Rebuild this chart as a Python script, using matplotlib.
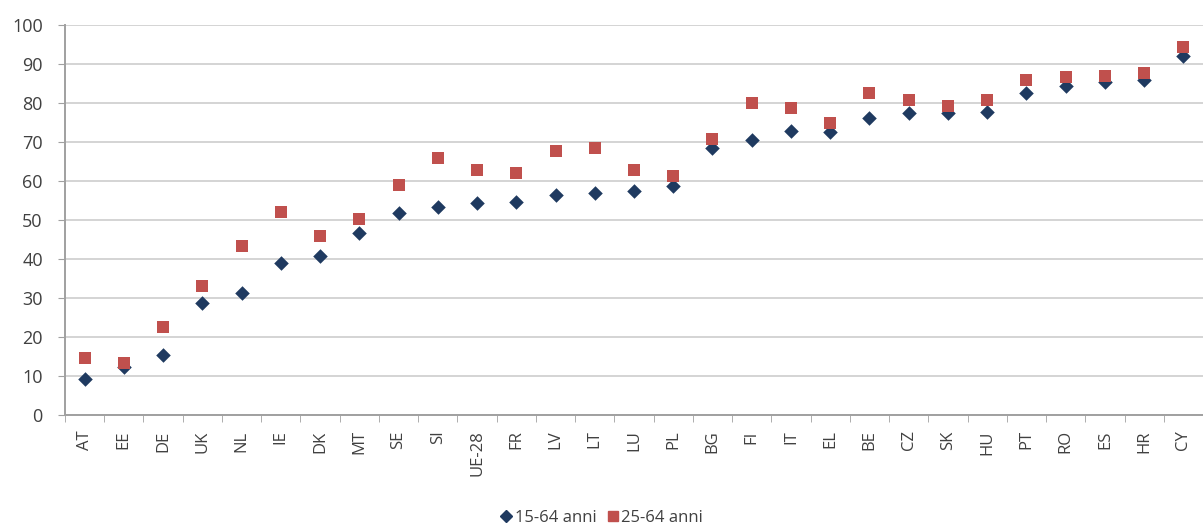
import matplotlib
matplotlib.use("Agg")
import matplotlib.pyplot as plt
from matplotlib.lines import Line2D
import numpy as np

countries = ["AT", "EE", "DE", "UK", "NL", "IE", "DK", "MT", "SE", "SI", "UE-28", "FR",
             "LV", "LT", "LU", "PL", "BG", "FI", "IT", "EL", "BE", "CZ", "SK", "HU",
             "PT", "RO", "ES", "HR", "CY"]
age_15_64 = [9.2, 12.3, 15.4, 28.7, 31.3, 39.0, 40.8, 46.7, 51.7, 53.3, 54.3, 54.7,
             56.4, 56.8, 57.4, 58.8, 68.4, 70.5, 72.8, 72.6, 76.1, 77.4, 77.4, 77.8,
             82.6, 84.4, 85.3, 86.0, 92.0]
age_25_64 = [14.6, 13.3, 22.6, 33.1, 43.3, 52.0, 46.0, 50.3, 59.0, 66.0, 62.8, 62.0,
             67.7, 68.4, 62.8, 61.3, 70.7, 80.0, 78.6, 74.8, 82.5, 80.7, 79.2, 80.7,
             86.0, 86.7, 87.0, 87.8, 94.4]
labels = ["15-64 anni", "25-64 anni"]

plt.rcParams['font.family'] = ['Open Sans', 'DejaVu Sans']

fig = plt.figure(figsize=(12.03, 5.28), dpi=100)
ax = fig.add_axes([65/1203, 1-415/528, 1-65/1203, (415-25)/528])

x = np.arange(len(countries))
navy = "#1F3A60"
red = "#C0504D"
ax.scatter(x, age_15_64, marker="D", s=55, color=navy, zorder=3, linewidths=0)
ax.scatter(x, age_25_64, marker="s", s=85, color=red, zorder=4, linewidths=0)

ax.set_xlim(-0.5, len(countries) - 0.5)
ax.set_ylim(0, 100)
ax.set_yticks(range(0, 101, 10))
ax.yaxis.grid(True, color="#D4D4D4", linewidth=1.4)
ax.set_axisbelow(True)

ax.set_xticks(x)
ax.set_xticklabels(countries, rotation=90, fontsize=12, color="#404040")
ax.tick_params(axis="x", length=0, pad=11)
ax.set_xticks(np.arange(-0.5, len(countries), 1), minor=True)
ax.tick_params(axis="x", which="minor", length=5, color="#A0A0A0", direction="out")
ax.tick_params(axis="y", length=5, color="#A0A0A0", labelsize=13, labelcolor="#404040", pad=11)

for s in ["top", "right"]:
    ax.spines[s].set_visible(False)
for s in ["left", "bottom"]:
    ax.spines[s].set_color("#A0A0A0")
    ax.spines[s].set_linewidth(1.4)

handles = [Line2D([], [], marker="D", color=navy, linestyle="none", markersize=6),
           Line2D([], [], marker="s", color=red, linestyle="none", markersize=7)]
fig.legend(handles, labels, loc="center", bbox_to_anchor=(0.5, 1-518/528), ncol=2,
           frameon=False, fontsize=12, handletextpad=0.1, columnspacing=0.6,
           labelcolor="#404040", handlelength=0.8)

fig.savefig("out.png", dpi=100)
